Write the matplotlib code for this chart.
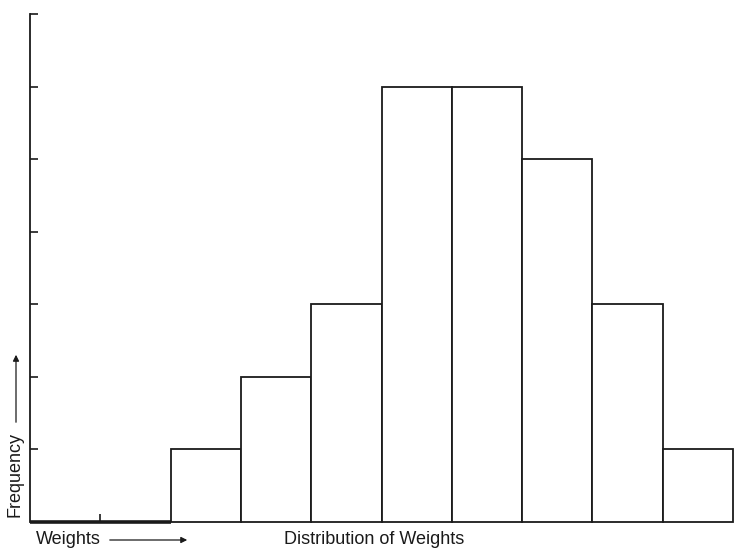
import matplotlib
matplotlib.use("Agg")
import matplotlib.pyplot as plt

# Data
bin_edges = [0, 1, 2, 3, 4, 5, 6, 7, 8, 9, 10]
frequencies = [0, 0, 1, 2, 3, 6, 6, 5, 3, 1]
title = "Distribution of Weights"
xlabel = "Weights"
ylabel = "Frequency"

W, H = 734, 550
fig = plt.figure(figsize=(W / 100, H / 100), dpi=100)
plt.rcParams['font.family'] = ['Liberation Sans', 'DejaVu Sans']

left, right, bottom, top = 30, 733, 522, 14
ax = fig.add_axes([left / W, (H - bottom) / H, (right - left) / W, (bottom - top) / H])
ax.set_xlim(bin_edges[0], bin_edges[-1])
ax.set_ylim(0, 7)

lefts = bin_edges[:-1]
widths = [b - a for a, b in zip(bin_edges[:-1], bin_edges[1:])]
for x0, w, f in zip(lefts, widths, frequencies):
    lw = 2.6 if f == 0 else 1.3
    ax.bar(x0, f, width=w, align='edge', facecolor='white', edgecolor='#1a1a1a',
           linewidth=lw, clip_on=False)

for s in ['top', 'right', 'bottom']:
    ax.spines[s].set_visible(False)
ax.spines['left'].set_linewidth(1.3)
ax.spines['left'].set_color('#1a1a1a')

ax.set_yticks(range(1, 8))
ax.set_yticklabels([])
ax.set_xticks([1])
ax.set_xticklabels([])
ax.tick_params(axis='both', direction='in', length=6, width=1.2, color='#1a1a1a')

# Bottom texts
fig.text(36 / W, 1 - 539 / H, xlabel, fontsize=13, va='center', ha='left', color='#1a1a1a')
fig.text(284 / W, 1 - 539 / H, title, fontsize=13, va='center', ha='left', color='#1a1a1a')
fig.add_artist(matplotlib.patches.FancyArrowPatch(
    (107 / W, 1 - 540 / H), (190 / W, 1 - 540 / H), transform=fig.transFigure,
    arrowstyle='-|>', mutation_scale=9, linewidth=0.9, color='#1a1a1a'))

# Left vertical label
fig.text(15 / W, 1 - 517 / H, ylabel, fontsize=13, rotation=90, va='bottom', ha='center',
         color='#1a1a1a')
fig.add_artist(matplotlib.patches.FancyArrowPatch(
    (16 / W, 1 - 425 / H), (16 / W, 1 - 352 / H), transform=fig.transFigure,
    arrowstyle='-|>', mutation_scale=9, linewidth=0.9, color='#1a1a1a'))

fig.savefig("out.png", dpi=100, facecolor='white')
